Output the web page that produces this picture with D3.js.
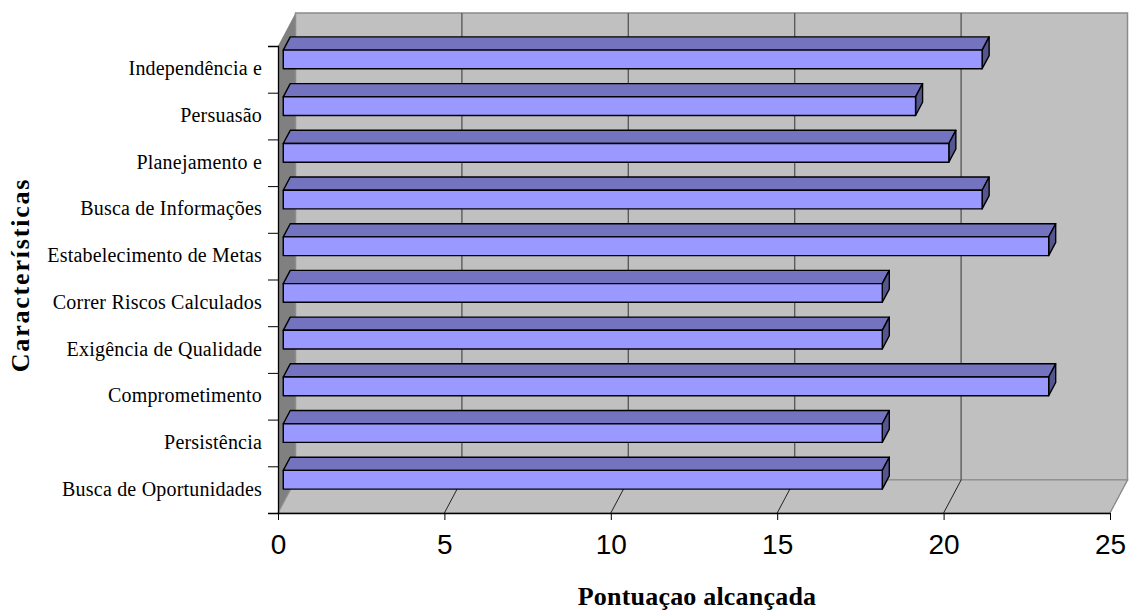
<!DOCTYPE html>
<html>
<head>
<meta charset="utf-8">
<script src="https://cdn.jsdelivr.net/npm/d3@7"></script>
<style>
  body { margin: 0; background: #fff; }
  svg { display: block; }
  .cat-label { font-family: "Times New Roman", "Liberation Serif", serif; font-size: 20px; fill: #000; letter-spacing: 0.2px; }
  .axis-title { font-family: "Times New Roman", "Liberation Serif", serif; font-weight: bold; font-size: 26px; fill: #000; }
  .x-axis text { font-family: Arial, "Liberation Sans", sans-serif; font-size: 28px; fill: #000; }
</style>
</head>
<body>
<div id="chart"></div>
<script>
// data, bottom to top as in the original sheet
const categories = [
    "Busca de Oportunidades",
    "Persistência",
    "Comprometimento",
    "Exigência de Qualidade",
    "Correr Riscos Calculados",
    "Estabelecimento de Metas",
    "Busca de Informações",
    "Planejamento e",
    "Persuasão",
    "Independência e"
];
const scores = [18, 18, 23, 18, 18, 23, 21, 20, 19, 21];
const xTicks = [0, 5, 10, 15, 20, 25];

const width = 1130, height = 612;
const plotLeft = 278, plotRight = 1110, plotTop = 46, plotBottom = 513;
const DX = 17.5, DY = -33;   // depth offset of the 3d box
const z1 = 0.3, z2 = 0.7;    // bar depth range

const data = categories.map((c, i) => ({ cat: c, value: scores[i] }));

const svg = d3.select("#chart")
    .append("svg")
    .attr("width", width)
    .attr("height", height);

// scales
const xScale = d3.scaleLinear().domain([0, 25]).range([plotLeft, plotRight]);
const yScale = d3.scaleBand()
    .domain(categories.slice().reverse())
    .range([plotTop, plotBottom])
    .paddingInner(0.6)
    .paddingOuter(0.3);
const yIdx = d3.scaleLinear().domain([0, categories.length]).range([plotBottom, plotTop]);

const proj = (x, y, z) => [x + z * DX, y + z * DY];
const poly = pts => pts.map(p => p.join(",")).join(" ");

// walls
svg.append("polygon") // left side wall
    .attr("points", poly([proj(plotLeft, plotTop, 0), proj(plotLeft, plotTop, 1), proj(plotLeft, plotBottom, 1), proj(plotLeft, plotBottom, 0)]))
    .attr("fill", "#808080");

svg.append("polygon") // back wall
    .attr("points", poly([proj(plotLeft, plotTop, 1), proj(plotRight, plotTop, 1), proj(plotRight, plotBottom, 1), proj(plotLeft, plotBottom, 1)]))
    .attr("fill", "#c0c0c0")
    .attr("stroke", "#8c8c8c")
    .attr("stroke-width", 1.5);

svg.append("polygon") // floor
    .attr("points", poly([proj(plotLeft, plotBottom, 0), proj(plotRight, plotBottom, 0), proj(plotRight, plotBottom, 1), proj(plotLeft, plotBottom, 1)]))
    .attr("fill", "#c0c0c0")
    .attr("stroke", "#8c8c8c")
    .attr("stroke-width", 1.2);

// gridlines on back wall and floor
const inner = xTicks.filter(t => t > 0 && t < 25);
svg.selectAll(".grid-back")
    .data(inner)
    .join("line")
    .attr("class", "grid-back")
    .attr("x1", d => proj(xScale(d), plotTop, 1)[0])
    .attr("y1", proj(0, plotTop, 1)[1])
    .attr("x2", d => proj(xScale(d), plotBottom, 1)[0])
    .attr("y2", proj(0, plotBottom, 1)[1])
    .attr("stroke", "#555")
    .attr("stroke-width", 1.3);

svg.selectAll(".grid-floor")
    .data(xTicks.slice(1))
    .join("line")
    .attr("class", "grid-floor")
    .attr("x1", d => xScale(d))
    .attr("y1", plotBottom)
    .attr("x2", d => proj(xScale(d), plotBottom, 1)[0])
    .attr("y2", proj(0, plotBottom, 1)[1])
    .attr("stroke", d => d === 25 ? "#8c8c8c" : "#222")
    .attr("stroke-width", 1);

// bars
const bars = svg.append("g").selectAll("g")
    .data(data)
    .join("g");

bars.append("polygon") // top face
    .attr("points", d => {
        const y0 = yScale(d.cat), xa = xScale(0), xb = xScale(d.value);
        return poly([proj(xa, y0, z1), proj(xb, y0, z1), proj(xb, y0, z2), proj(xa, y0, z2)]);
    })
    .attr("fill", "#7373bf")
    .attr("stroke", "#000")
    .attr("stroke-width", 1.4)
    .attr("stroke-linejoin", "round");

bars.append("polygon") // end face
    .attr("points", d => {
        const y0 = yScale(d.cat), y1 = y0 + yScale.bandwidth(), xb = xScale(d.value);
        return poly([proj(xb, y0, z1), proj(xb, y0, z2), proj(xb, y1, z2), proj(xb, y1, z1)]);
    })
    .attr("fill", "#56568f")
    .attr("stroke", "#000")
    .attr("stroke-width", 1.4)
    .attr("stroke-linejoin", "round");

bars.append("polygon") // front face
    .attr("points", d => {
        const y0 = yScale(d.cat), y1 = y0 + yScale.bandwidth(), xa = xScale(0), xb = xScale(d.value);
        return poly([proj(xa, y0, z1), proj(xb, y0, z1), proj(xb, y1, z1), proj(xa, y1, z1)]);
    })
    .attr("fill", "#9999ff")
    .attr("stroke", "#000")
    .attr("stroke-width", 1.4)
    .attr("stroke-linejoin", "round");

// axes
const leftAxis = d3.axisLeft(yIdx)
    .tickValues(d3.range(0, categories.length + 1))
    .tickSize(10)
    .tickFormat("");
svg.append("g")
    .attr("class", "y-axis")
    .attr("transform", `translate(${plotLeft},0)`)
    .call(leftAxis)
    .call(g => g.select(".domain").attr("stroke-width", 1.3));

const bottomAxis = d3.axisBottom(xScale)
    .tickValues(xTicks)
    .tickSize(7)
    .tickSizeOuter(0)
    .tickPadding(14);
svg.append("g")
    .attr("class", "x-axis")
    .attr("transform", `translate(0,${plotBottom})`)
    .call(bottomAxis)
    .call(g => g.select(".domain").attr("stroke-width", 1.3));

// category labels
svg.selectAll(".cat-label")
    .data(data)
    .join("text")
    .attr("class", "cat-label")
    .attr("x", 262)
    .attr("y", d => yScale(d.cat) + yScale.bandwidth() / 2 + 6)
    .attr("text-anchor", "end")
    .text(d => d.cat);

// titles
svg.append("text")
    .attr("class", "axis-title")
    .attr("x", 697)
    .attr("y", 605)
    .attr("text-anchor", "middle")
    .style("letter-spacing", "0.2px")
    .text("Pontuaçao alcançada");

svg.append("text")
    .attr("class", "axis-title")
    .attr("transform", "translate(29,275) rotate(-90)")
    .attr("text-anchor", "middle")
    .style("letter-spacing", "1.8px")
    .text("Características");
</script>
</body>
</html>
